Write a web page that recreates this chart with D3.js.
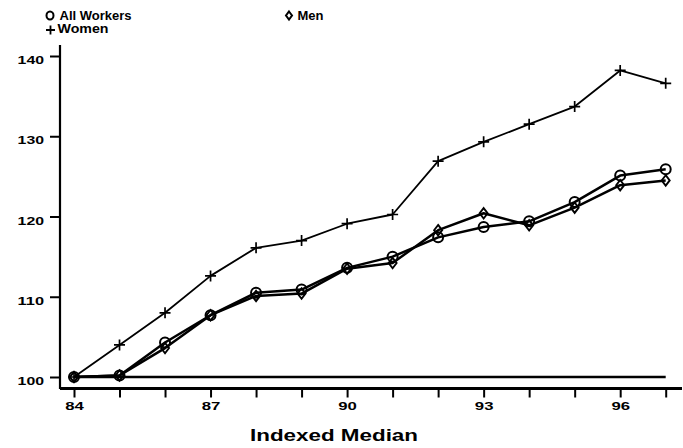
<!DOCTYPE html>
<html>
<head>
<meta charset="utf-8">
<script src="https://cdn.jsdelivr.net/npm/d3@7"></script>
<style>
  html, body { margin: 0; padding: 0; background: #fff; }
  svg { display: block; }
  text { font-family: "Liberation Sans", Arial, Helvetica, sans-serif; font-weight: bold; fill: #000; }
</style>
</head>
<body>
<svg id="chart" width="683" height="448"></svg>
<script>
const years = [84, 85, 86, 87, 88, 89, 90, 91, 92, 93, 94, 95, 96, 97];
const allWorkers = [100, 100.2, 104.3, 107.7, 110.5, 110.9, 113.6, 115.0, 117.4, 118.7, 119.4, 121.8, 125.1, 125.9];
const men = [100, 100.2, 103.6, 107.7, 110.1, 110.4, 113.5, 114.2, 118.3, 120.4, 118.9, 121.1, 123.9, 124.5];
const women = [100, 104.0, 108.0, 112.6, 116.1, 117.0, 119.1, 120.25, 126.9, 129.3, 131.5, 133.7, 138.2, 136.6];
const yTicks = [100, 110, 120, 130, 140];
const xLabelYears = [84, 87, 90, 93, 96];
const baseline = 100;
const xTitle = "Indexed Median";
const legendNames = ["All Workers", "Men", "Women"];

const svg = d3.select("#chart");
const x = d3.scaleLinear().domain([84, 97]).range([74, 665.7]);
const y = d3.scaleLinear().domain([100, 140]).range([377, 56]);

// Axes
const yAxis = d3.axisLeft(y).tickValues(yTicks).tickSize(10).tickPadding(6);
const gy = svg.append("g").attr("transform", "translate(60,0)").call(yAxis);
gy.select(".domain").attr("d", "M0,45V389").attr("stroke", "#000").attr("stroke-width", 2.2);
gy.selectAll(".tick line").attr("stroke-width", 2);
gy.selectAll(".tick text")
  .attr("font-size", 11.5).attr("dy", "0.75em").attr("y", -1)
  .attr("textLength", d => String(d).length * 8.8).attr("lengthAdjust", "spacingAndGlyphs");

const xAxis = d3.axisBottom(x).tickValues(years).tickSize(9).tickPadding(4)
  .tickFormat(d => xLabelYears.includes(d) ? String(d) : "");
const gx = svg.append("g").attr("transform", "translate(0,388.5)").call(xAxis);
gx.select(".domain").attr("d", "M60,0H682").attr("stroke", "#000").attr("stroke-width", 2.8);
gx.selectAll(".tick line").attr("stroke-width", 2);
gx.selectAll(".tick text")
  .attr("font-size", 11.5)
  .filter(d => xLabelYears.includes(d))
  .attr("textLength", d => String(d).length * 9.3).attr("lengthAdjust", "spacingAndGlyphs");

// Axis title
svg.append("text").attr("x", 334).attr("y", 441).attr("text-anchor", "middle")
  .attr("font-size", 16).attr("textLength", 168).attr("lengthAdjust", "spacingAndGlyphs")
  .text(xTitle);

// Reference line at 100
svg.append("line")
  .attr("x1", x(years[0])).attr("x2", x(years[years.length - 1]))
  .attr("y1", y(baseline)).attr("y2", y(baseline))
  .attr("stroke", "#000").attr("stroke-width", 2.5);

const line = d3.line().x((d, i) => x(years[i])).y(d => y(d));

function drawSeries(vals, width) {
  svg.append("path").datum(vals).attr("d", line)
    .attr("fill", "none").attr("stroke", "#000").attr("stroke-width", width)
    .attr("stroke-linejoin", "round");
}
drawSeries(women, 1.8);
drawSeries(men, 2.5);
drawSeries(allWorkers, 2.5);

// Markers
const plusPath = "M-5.5,0H5.5M0,-5.5V5.5";
const diamondPath = "M0,-5.2L4,0L0,5.2L-4,0Z";

svg.append("g").selectAll("path").data(women).join("path")
  .attr("transform", (d, i) => `translate(${x(years[i])},${y(d)})`)
  .attr("d", plusPath).attr("stroke", "#000").attr("stroke-width", 1.7).attr("fill", "none");

svg.append("g").selectAll("path").data(men).join("path")
  .attr("transform", (d, i) => `translate(${x(years[i])},${y(d)})`)
  .attr("d", diamondPath).attr("stroke", "#000").attr("stroke-width", 1.9).attr("fill", "none");

svg.append("g").selectAll("circle").data(allWorkers).join("circle")
  .attr("cx", (d, i) => x(years[i])).attr("cy", d => y(d)).attr("r", 5)
  .attr("stroke", "#000").attr("stroke-width", 2).attr("fill", "none");

// Legend
const leg = svg.append("g");
leg.append("ellipse").attr("cx", 50).attr("cy", 15.5).attr("rx", 3.5).attr("ry", 4)
  .attr("fill", "none").attr("stroke", "#000").attr("stroke-width", 2);
leg.append("text").attr("x", 59.5).attr("y", 19.5).attr("font-size", 12.5)
  .attr("textLength", 72).attr("lengthAdjust", "spacingAndGlyphs").text(legendNames[0]);
leg.append("path").attr("transform", "translate(289,15.5)").attr("d", "M0,-4L3,0L0,4L-3,0Z")
  .attr("fill", "none").attr("stroke", "#000").attr("stroke-width", 2);
leg.append("text").attr("x", 297.5).attr("y", 19.5).attr("font-size", 12.5)
  .attr("textLength", 26).attr("lengthAdjust", "spacingAndGlyphs").text(legendNames[1]);
leg.append("path").attr("transform", "translate(50.5,30)").attr("d", "M-4.5,0H4.5M0,-4.5V4.5")
  .attr("stroke", "#000").attr("stroke-width", 1.8);
leg.append("text").attr("x", 57.5).attr("y", 33).attr("font-size", 12.5)
  .attr("textLength", 51).attr("lengthAdjust", "spacingAndGlyphs").text(legendNames[2]);
</script>
</body>
</html>
